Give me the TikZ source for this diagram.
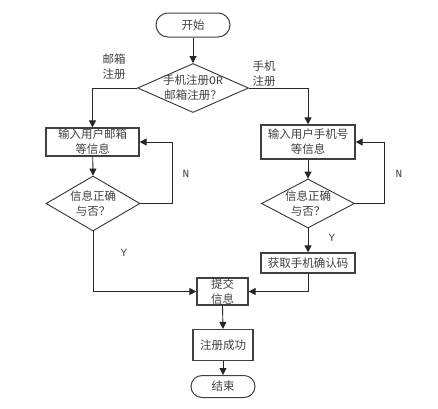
\documentclass[tikz,border=0pt]{standalone}
\usepackage{fontspec}
\newfontfamily\cjk{Noto Sans CJK SC}
\setmonofont{Liberation Mono}
\usetikzlibrary{shapes.geometric,arrows.meta}
\tikzset{
  every node/.style={font=\cjk\fontsize{11.5}{15}\selectfont, text=black!75},
  proc/.style={draw=black!75, line width=1.2pt, rectangle, inner sep=0pt, align=center},
  term/.style={draw=black!75, line width=1pt, rectangle, inner sep=0pt, align=center},
  decide/.style={draw=black!80, line width=0.9pt, diamond, inner sep=0pt},
  arr/.style={draw=black!85, line width=0.9pt, -{Triangle[length=7pt,width=7pt]}},
  lbl/.style={align=center, inner sep=0pt},
}
\begin{document}
\begin{tikzpicture}[x=1pt,y=-1pt]
\useasboundingbox (0,0) rectangle (438,408);
\node[term, rounded corners=12pt, minimum width=74pt, minimum height=24pt] (start) at (193,25) {开始};
\node[decide, minimum width=111pt, minimum height=49pt,
  label={[lbl]center:{手机注册{\ttfamily OR}\\邮箱注册？}}] (d1) at (193,88) {};
\node[proc, minimum width=93pt, minimum height=28pt] (lbox) at (92.5,142) {输入用户邮箱\\等信息};
\node[proc, minimum width=94pt, minimum height=34pt] (rbox) at (308,142) {输入用户手机号\\等信息};
\node[decide, minimum width=94pt, minimum height=55pt,
  label={[lbl]center:{信息正确\\与否？}}] (ld2) at (93,203.5) {};
\node[decide, minimum width=93pt, minimum height=49pt,
  label={[lbl]center:{信息正确\\与否？}}] (rd2) at (308,203.5) {};
\node[proc, minimum width=94pt, minimum height=20pt] (code) at (308,263) {获取手机确认码};
\node[proc, minimum width=51pt, minimum height=27pt] (submit) at (222.5,291.5) {提交\\信息};
\node[proc, minimum width=60pt, minimum height=31pt] (success) at (223,345) {注册成功};
\node[term, rounded corners=11pt, minimum width=64pt, minimum height=22pt] (end) at (223,386.5) {结束};

\node[lbl] (lmail) at (114,67) {邮箱\\注册};
\node[lbl] (lphone) at (264,74) {手机\\注册};
\node[lbl, font=\ttfamily\fontsize{11}{13}\selectfont] (nl) at (186,174) {N};
\node[lbl, font=\ttfamily\fontsize{11}{13}\selectfont] (nr) at (399,174) {N};
\node[lbl, font=\ttfamily\fontsize{11}{13}\selectfont] (yl) at (124,253) {Y};
\node[lbl, font=\ttfamily\fontsize{11}{13}\selectfont] (yr) at (332,238) {Y};

\draw[arr] (start) -- (d1.north);
\draw[arr] (d1.west) -| (lbox.north);
\draw[arr] (d1.east) -| (rbox.north);
\draw[arr] (lbox) -- (ld2.north);
\draw[arr] (rbox) -- (rd2.north);
\draw[arr] (ld2.east) -- ++(32,0) |- (lbox.east);
\draw[arr] (rd2.east) -- ++(29,0) |- (rbox.east);
\draw[arr] (rd2.south) -- (code.north);
\draw[arr] (ld2.south) |- (submit.west);
\draw[arr] (code.south) |- (submit.east);
\draw[arr] (submit.south) -- (success.north);
\draw[arr] (success.south) -- (end.north);
\end{tikzpicture}
\end{document}
